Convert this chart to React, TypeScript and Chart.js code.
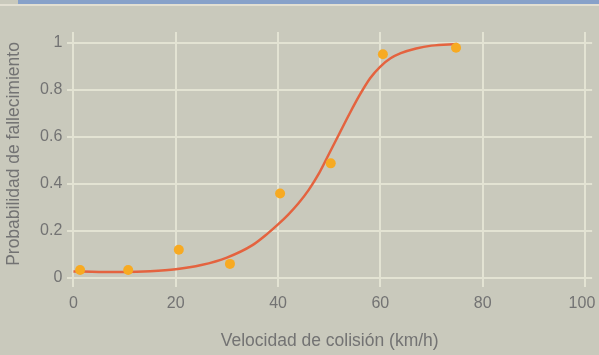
import React, { useEffect, useRef } from "react";
import { Chart, registerables } from "chart.js";

Chart.register(...registerables);

const speedPoints = [1.3, 10.7, 20.6, 30.6, 40.4, 50.3, 60.5, 74.8];
const probPoints = [0.034, 0.034, 0.12, 0.06, 0.36, 0.488, 0.952, 0.98];

const curveSpeeds = [0, 5, 10, 15, 20, 25, 30, 35, 38, 40, 42, 44, 46, 48, 50, 52, 54, 56, 58, 60, 62, 64, 67, 70, 75];
const curveProbs = [0.028, 0.026, 0.026, 0.029, 0.037, 0.055, 0.087, 0.14, 0.19, 0.228, 0.27, 0.318, 0.375, 0.445, 0.53, 0.615, 0.7, 0.78, 0.85, 0.9, 0.935, 0.957, 0.977, 0.989, 0.996];

const xTicks = [0, 20, 40, 60, 80, 100];
const yTicks = [0, 0.2, 0.4, 0.6, 0.8, 1];

const xTitle = "Velocidad de colisión (km/h)";
const yTitle = "Probabilidad de fallecimiento";

const FONT = "'Liberation Sans', Arial, Helvetica, sans-serif";
const TEXT = "#737373";

export default function App() {
  const ref = useRef<HTMLCanvasElement | null>(null);

  useEffect(() => {
    if (!ref.current) return;
    const bg = {
      id: "bg",
      beforeDraw(chart: any) {
        const { ctx, width, height } = chart;
        ctx.save();
        ctx.fillStyle = "#c9c9bc";
        ctx.fillRect(0, 0, width, height);
        ctx.restore();
        try {
          const items = chart.scales.x.getLabelItems();
          const last = items[items.length - 1];
          if (last && !last._shifted) {
            last.options.translation[0] -= 3;
            last._shifted = true;
          }
        } catch (e) {
          /* ignore */
        }
      },
      afterDraw(chart: any) {
        const { ctx } = chart;
        ctx.save();
        ctx.translate(14, 154);
        ctx.rotate(-Math.PI / 2);
        ctx.fillStyle = TEXT;
        ctx.font = `17.5px ${FONT}`;
        ctx.textAlign = "center";
        ctx.textBaseline = "middle";
        ctx.fillText(yTitle, 0, 0);
        ctx.restore();
      },
    };
    const chart = new Chart(ref.current, {
      type: "scatter",
      data: {
        datasets: [
          {
            type: "scatter",
            data: speedPoints.map((x, i) => ({ x, y: probPoints[i] })),
            backgroundColor: "#f7aa22",
            borderColor: "#f7aa22",
            pointRadius: 5,
            pointBorderWidth: 0,
            order: 0,
          },
          {
            type: "line",
            data: curveSpeeds.map((x, i) => ({ x, y: curveProbs[i] })),
            borderColor: "#e4633f",
            borderWidth: 2.5,
            pointRadius: 0,
            fill: false,
            cubicInterpolationMode: "monotone",
            order: 1,
          } as any,
        ],
      },
      options: {
        responsive: false,
        animation: false,
        devicePixelRatio: 1,
        events: [],
        layout: { padding: { top: 32, right: 6.9, left: 0, bottom: 0 } },
        plugins: { legend: { display: false }, tooltip: { enabled: false } },
        scales: {
          x: {
            type: "linear",
            min: -1.2,
            max: 101.4,
            afterBuildTicks: (s: any) => {
              s.ticks = xTicks.map((v) => ({ value: v }));
            },
            afterFit: (s: any) => {
              s.height = 67.6;
              s.paddingLeft = 0;
              s.paddingRight = 0;
            },
            border: { display: false },
            grid: { color: "#e3e3d3", lineWidth: 2, drawTicks: false },
            ticks: {
              color: TEXT,
              font: { family: FONT, size: 16 },
              padding: 7,
              maxRotation: 0,
            },
            title: {
              display: true,
              text: xTitle,
              color: TEXT,
              font: { family: FONT, size: 17.5 },
              padding: { top: 0, bottom: 3 },
            },
          },
          y: {
            type: "linear",
            min: -0.04,
            max: 1.047,
            afterBuildTicks: (s: any) => {
              s.ticks = yTicks.map((v) => ({ value: v }));
            },
            afterFit: (s: any) => {
              s.width = 67.3;
              s.paddingTop = 0;
              s.paddingBottom = 0;
            },
            border: { display: false },
            grid: { color: "#e3e3d3", lineWidth: 2, drawTicks: false },
            ticks: {
              color: TEXT,
              font: { family: FONT, size: 16 },
              padding: 5,
              callback: (v: any) => String(Math.round(Number(v) * 10) / 10),
            },
            title: { display: false, text: yTitle },
          },
        },
      },
      plugins: [bg],
    });
    return () => chart.destroy();
  }, []);

  return (
    <div style={{ position: "fixed", left: 0, top: 0, width: 599, height: 355, background: "#ffffff" }}>
      <canvas ref={ref} width={599} height={355} style={{ position: "absolute", left: 0, top: 0 }} />
      <div style={{ position: "absolute", left: 18, top: 0, width: 581, height: 4, background: "#87a1c9" }} />
      <div style={{ position: "absolute", left: 0, top: 4, width: 599, height: 2, background: "#e2dfd2" }} />
    </div>
  );
}
